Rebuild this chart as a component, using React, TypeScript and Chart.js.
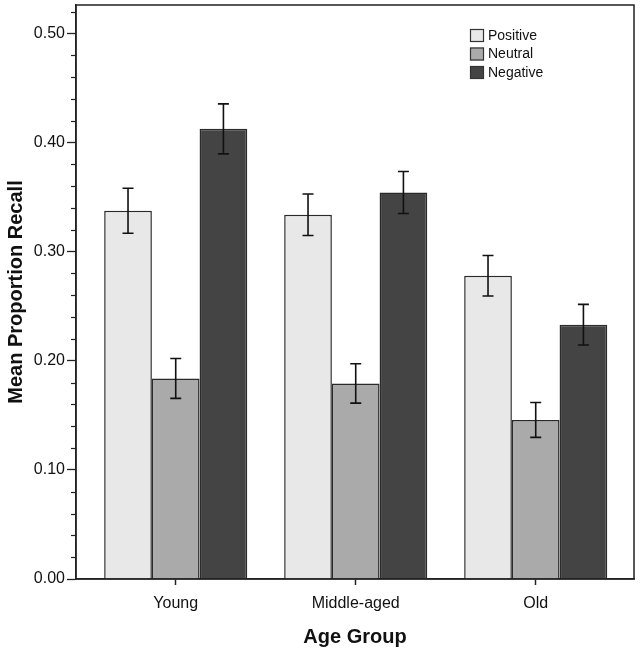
import React, { useEffect, useRef } from "react";
import { Chart, registerables } from "chart.js";
Chart.register(...registerables);

const categories = ["Young", "Middle-aged", "Old"];
const seriesNames = ["Positive", "Neutral", "Negative"];
const positive = [0.3375, 0.3338, 0.2779];
const neutral = [0.1838, 0.1792, 0.1458];
const negative = [0.4125, 0.3542, 0.2331];
const positiveErr = [0.0206, 0.019, 0.0185];
const neutralErr = [0.0183, 0.018, 0.016];
const negativeErr = [0.0229, 0.0192, 0.0186];
const yMin = 0;
const yMax = 0.526;
const yTickStep = 0.02;

const FONT = "'Liberation Sans', Arial, sans-serif";
const fills = ["#e8e8e8", "#aaaaaa", "#444444"];

const isMajor = (v: number) => Math.abs(v * 10 - Math.round(v * 10)) < 1e-6;

const decorPlugin = {
  id: "decor",
  afterDatasetsDraw(chart: any) {
    const ctx = chart.ctx;
    const ys = chart.scales.y;
    const area = chart.chartArea;
    ctx.save();
    // error bars
    ctx.strokeStyle = "#111";
    ctx.lineWidth = 1.6;
    chart.data.datasets.forEach((ds: any, di: number) => {
      const meta = chart.getDatasetMeta(di);
      meta.data.forEach((el: any, i: number) => {
        const v = ds.data[i].y;
        const e = ds.errors[i];
        const x = el.x;
        const yt = ys.getPixelForValue(v + e);
        const yb = ys.getPixelForValue(v - e);
        ctx.beginPath();
        ctx.moveTo(x, yt);
        ctx.lineTo(x, yb);
        ctx.moveTo(x - 5.5, yt);
        ctx.lineTo(x + 5.5, yt);
        ctx.moveTo(x - 5.5, yb);
        ctx.lineTo(x + 5.5, yb);
        ctx.stroke();
      });
    });
    // frame
    ctx.strokeStyle = "#222";
    ctx.lineWidth = 1.5;
    ctx.strokeRect(area.left, area.top, area.right - area.left, area.bottom - area.top);
    // minor ticks
    ctx.strokeStyle = "#222";
    ctx.lineWidth = 1.2;
    ys.ticks.forEach((t: any) => {
      if (!isMajor(t.value)) {
        const y = Math.round(ys.getPixelForValue(t.value)) + 0.5;
        ctx.beginPath();
        ctx.moveTo(area.left - 5, y);
        ctx.lineTo(area.left, y);
        ctx.stroke();
      }
    });
    // legend
    const lx = 470;
    let ly = 29;
    ctx.font = `14px ${FONT}`;
    ctx.textBaseline = "middle";
    ctx.textAlign = "left";
    chart.data.datasets.forEach((ds: any) => {
      ctx.fillStyle = ds.backgroundColor;
      ctx.fillRect(lx, ly, 14, 13);
      ctx.strokeStyle = "#333";
      ctx.lineWidth = 1.2;
      ctx.strokeRect(lx + 0.5, ly + 0.5, 13, 12);
      ctx.fillStyle = "#111";
      ctx.fillText(ds.label, lx + 18, ly + 7);
      ly += 18.5;
    });
    ctx.restore();
  },
};

export default function App() {
  const ref = useRef<HTMLCanvasElement | null>(null);
  useEffect(() => {
    document.body.style.margin = "0";
    const values = [positive, neutral, negative];
    const errs = [positiveErr, neutralErr, negativeErr];
    const chart = new Chart(ref.current as HTMLCanvasElement, {
      type: "bar",
      data: {
        datasets: seriesNames.map((name, si) => ({
          label: name,
          data: categories.map((_c, i) => ({ x: i, y: values[si][i] })),
          errors: errs[si],
          backgroundColor: fills[si],
          borderColor: "#2a2a2a",
          borderWidth: 1.5,
          barPercentage: 1,
          categoryPercentage: 0.795,
        })) as any,
      },
      options: {
        animation: false,
        responsive: false,
        maintainAspectRatio: false,
        layout: { padding: { top: 5, right: 8, left: 0, bottom: 0 } },
        plugins: { legend: { display: false }, tooltip: { enabled: false } },
        scales: {
          x: {
            type: "linear",
            min: -0.554,
            max: 2.546,
            offset: false,
            afterBuildTicks: (s: any) => {
              s.ticks = categories.map((_c, i) => ({ value: i }));
            },
            afterFit: (s: any) => {
              s.height = 74;
              s.paddingLeft = 0;
              s.paddingRight = 0;
            },
            ticks: {
              autoSkip: false,
              maxRotation: 0,
              padding: 9,
              color: "#111",
              font: { family: FONT, size: 16 },
              callback: (v: any) => categories[Math.round(v)] ?? "",
            },
            grid: {
              display: true,
              drawOnChartArea: false,
              offset: false,
              tickLength: 6,
              tickColor: "#222",
              tickWidth: 1.5,
            },
            border: { display: true, color: "#222", width: 1.5 },
            title: {
              display: true,
              text: "Age Group",
              color: "#111",
              font: { family: FONT, size: 20, weight: "bold" },
              padding: { top: 0, bottom: 4 },
            },
          },
          y: {
            type: "linear",
            min: yMin,
            max: yMax,
            afterFit: (s: any) => {
              s.width = 76;
              s.paddingTop = 0;
              s.paddingBottom = 0;
            },
            ticks: {
              stepSize: yTickStep,
              includeBounds: false,
              autoSkip: false,
              padding: 2,
              color: "#111",
              font: { family: FONT, size: 16 },
              callback: (v: any) => (isMajor(Number(v)) ? Number(v).toFixed(2) : ""),
            },
            grid: {
              display: true,
              drawOnChartArea: false,
              tickLength: 9,
              tickWidth: 1.3,
              tickColor: (c: any) => (isMajor(c.tick.value) ? "#222" : "rgba(0,0,0,0)"),
            },
            border: { display: true, color: "#222", width: 1.5 },
            title: {
              display: true,
              text: "Mean Proportion Recall",
              color: "#111",
              font: { family: FONT, size: 20, weight: "bold" },
              padding: { top: 4, bottom: 0 },
            },
          },
        },
      } as any,
      plugins: [decorPlugin],
    });
    return () => chart.destroy();
  }, []);
  return (
    <div style={{ width: 642, height: 653 }}>
      <canvas ref={ref} width={642} height={653} style={{ display: "block" }} />
    </div>
  );
}
